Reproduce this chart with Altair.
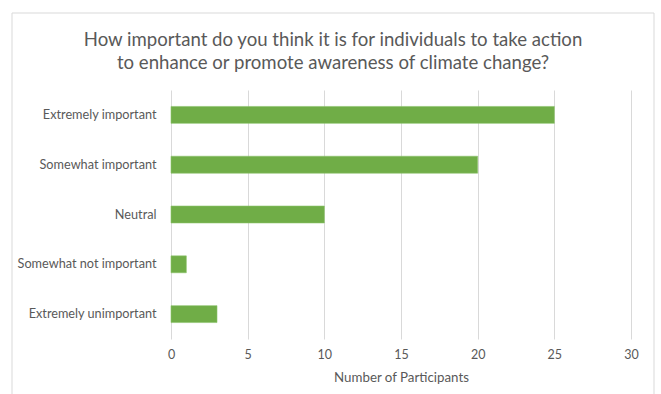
import altair as alt
import pandas as pd

# Survey responses
categories = [
    "Extremely important",
    "Somewhat important",
    "Neutral",
    "Somewhat not important",
    "Extremely unimportant",
]
participants = [25, 20, 10, 1, 3]

df = pd.DataFrame({"response": categories, "count": participants})

FONT = "Lato"
GREY = "#595959"

bars = (
    alt.Chart(df)
    .mark_bar(color="#70AD47", stroke="#8cc26a", strokeWidth=0.6)
    .encode(
        x=alt.X(
            "count:Q",
            title="Number of Participants",
            scale=alt.Scale(domain=[0, 30], nice=False),
            axis=alt.Axis(
                values=[0, 5, 10, 15, 20, 25, 30],
                grid=True,
                gridColor="#d9d9d9",
                domain=False,
                ticks=False,
                labelFlush=False,
                labelPadding=9,
                labelFontSize=12.5,
                labelColor=GREY,
                labelFont=FONT,
                titleFont=FONT,
                titleFontSize=13.3,
                titleFontWeight="normal",
                titleColor=GREY,
                titlePadding=10,
            ),
        ),
        y=alt.Y(
            "response:N",
            sort=categories,
            title=None,
            scale=alt.Scale(paddingInner=0.66, paddingOuter=0.33),
            axis=alt.Axis(
                domain=False,
                ticks=False,
                grid=False,
                labelPadding=15,
                labelFontSize=12.7,
                labelColor=GREY,
                labelFont=FONT,
            ),
        ),
    )
)

# Light frame around the whole chart
frame = (
    alt.Chart(alt.Data(values=[{"f": 1}]))
    .mark_rect(fill="transparent", stroke="#d9d9d9", strokeWidth=1)
    .encode(
        x=alt.value(-159),
        x2=alt.value(483),
        y=alt.value(-77),
        y2=alt.value(330),
    )
)

chart = (
    alt.layer(frame, bars)
    .properties(
        width=460,
        height=249,
        padding={"left": 171, "top": 90, "right": 30, "bottom": 55},
        autosize=alt.AutoSizeParams(type="none"),
        title=alt.TitleParams(
            text=[
                "How important do you think it is for individuals to take action",
                "to enhance or promote awareness of climate change?",
            ],
            font=FONT,
            fontSize=18.6,
            fontWeight="normal",
            color=GREY,
            lineHeight=22.5,
            anchor="middle",
            frame="group",
            dx=-68,
            offset=-60,
        ),
    )
    .configure_view(stroke=None)
)

chart.save("out.html", embed_options={"renderer": "svg", "actions": False})
